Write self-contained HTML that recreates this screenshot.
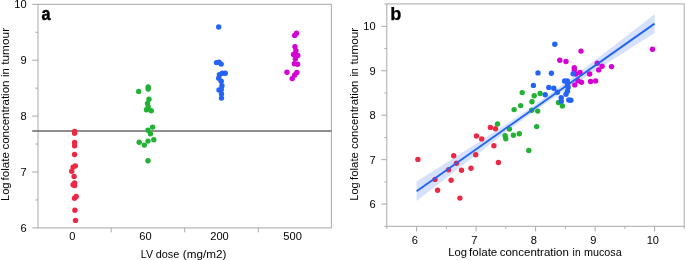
<!DOCTYPE html>
<html><head><meta charset="utf-8"><title>Figure</title>
<style>
html,body{margin:0;padding:0;background:#fff;}
svg{display:block;}
text{font-family:"Liberation Sans",sans-serif;fill:#000;}
.t{font-size:11.1px;}
.l{font-size:11.6px;}
.p{font-size:18.7px;font-weight:bold;fill:#000;stroke:#000;stroke-width:0.45px;stroke-linejoin:round;}
</style></head><body>
<svg width="685" height="260" viewBox="0 0 685 260">
<rect width="685" height="260" fill="#fff"/>

<g stroke="#a9a9a9" stroke-width="1" fill="none">
<rect x="38.0" y="4.3" width="293.4" height="223.6"/>
<line x1="32.2" x2="38.0" y1="227.90" y2="227.90"/>
<line x1="32.2" x2="38.0" y1="172.00" y2="172.00"/>
<line x1="32.2" x2="38.0" y1="116.10" y2="116.10"/>
<line x1="32.2" x2="38.0" y1="60.20" y2="60.20"/>
<line x1="32.2" x2="38.0" y1="4.30" y2="4.30"/>
<line x1="35.3" x2="38.0" y1="199.95" y2="199.95"/>
<line x1="35.3" x2="38.0" y1="144.05" y2="144.05"/>
<line x1="35.3" x2="38.0" y1="88.15" y2="88.15"/>
<line x1="35.3" x2="38.0" y1="32.25" y2="32.25"/>
<line x1="111.2" x2="111.2" y1="227.9" y2="232.3"/>
<line x1="184.7" x2="184.7" y1="227.9" y2="232.3"/>
<line x1="258.3" x2="258.3" y1="227.9" y2="232.3"/>
</g>
<line x1="32.2" x2="331.4" y1="131.0" y2="131.0" stroke="#676767" stroke-width="1.35"/>
<circle cx="74.6" cy="131.5" r="2.7" fill="#EC2945"/><circle cx="74.6" cy="133.2" r="2.7" fill="#EC2945"/><circle cx="74.6" cy="142.5" r="2.7" fill="#EC2945"/><circle cx="74.6" cy="145.8" r="2.7" fill="#EC2945"/><circle cx="74.6" cy="154.5" r="2.7" fill="#EC2945"/><circle cx="75.3" cy="165.9" r="2.7" fill="#EC2945"/><circle cx="73.1" cy="167.1" r="2.7" fill="#EC2945"/><circle cx="71.7" cy="171.2" r="2.7" fill="#EC2945"/><circle cx="74.1" cy="176.4" r="2.7" fill="#EC2945"/><circle cx="74.6" cy="183.0" r="2.7" fill="#EC2945"/><circle cx="73.1" cy="184.7" r="2.7" fill="#EC2945"/><circle cx="74.6" cy="185.5" r="2.7" fill="#EC2945"/><circle cx="76.2" cy="196.5" r="2.7" fill="#EC2945"/><circle cx="74.5" cy="198.3" r="2.7" fill="#EC2945"/><circle cx="74.9" cy="210.2" r="2.7" fill="#EC2945"/><circle cx="75.5" cy="220.4" r="2.7" fill="#EC2945"/><circle cx="148.2" cy="87.0" r="2.7" fill="#22B233"/><circle cx="148.2" cy="89.0" r="2.7" fill="#22B233"/><circle cx="138.7" cy="91.4" r="2.7" fill="#22B233"/><circle cx="149.0" cy="99.3" r="2.7" fill="#22B233"/><circle cx="147.5" cy="103.4" r="2.7" fill="#22B233"/><circle cx="148.2" cy="107.0" r="2.7" fill="#22B233"/><circle cx="146.5" cy="109.7" r="2.7" fill="#22B233"/><circle cx="151.2" cy="110.7" r="2.7" fill="#22B233"/><circle cx="152.6" cy="127.1" r="2.7" fill="#22B233"/><circle cx="148.0" cy="130.2" r="2.7" fill="#22B233"/><circle cx="150.4" cy="133.8" r="2.7" fill="#22B233"/><circle cx="153.8" cy="139.7" r="2.7" fill="#22B233"/><circle cx="148.0" cy="141.1" r="2.7" fill="#22B233"/><circle cx="139.2" cy="142.2" r="2.7" fill="#22B233"/><circle cx="144.3" cy="145.1" r="2.7" fill="#22B233"/><circle cx="148.0" cy="160.7" r="2.7" fill="#22B233"/><circle cx="218.7" cy="27.0" r="2.7" fill="#2464F5"/><circle cx="216.5" cy="62.6" r="2.7" fill="#2464F5"/><circle cx="219.0" cy="62.3" r="2.7" fill="#2464F5"/><circle cx="221.2" cy="64.1" r="2.7" fill="#2464F5"/><circle cx="225.3" cy="73.3" r="2.7" fill="#2464F5"/><circle cx="222.3" cy="73.3" r="2.7" fill="#2464F5"/><circle cx="219.4" cy="74.7" r="2.7" fill="#2464F5"/><circle cx="218.7" cy="78.3" r="2.7" fill="#2464F5"/><circle cx="221.2" cy="81.2" r="2.7" fill="#2464F5"/><circle cx="221.9" cy="85.7" r="2.7" fill="#2464F5"/><circle cx="219.0" cy="90.0" r="2.7" fill="#2464F5"/><circle cx="221.3" cy="89.5" r="2.7" fill="#2464F5"/><circle cx="221.5" cy="94.0" r="2.7" fill="#2464F5"/><circle cx="221.5" cy="98.1" r="2.7" fill="#2464F5"/><circle cx="296.5" cy="33.2" r="2.7" fill="#D400D4"/><circle cx="294.7" cy="35.4" r="2.7" fill="#D400D4"/><circle cx="295.0" cy="46.8" r="2.7" fill="#D400D4"/><circle cx="295.9" cy="50.8" r="2.7" fill="#D400D4"/><circle cx="293.5" cy="54.5" r="2.7" fill="#D400D4"/><circle cx="297.8" cy="55.5" r="2.7" fill="#D400D4"/><circle cx="295.4" cy="58.9" r="2.7" fill="#D400D4"/><circle cx="294.4" cy="63.7" r="2.7" fill="#D400D4"/><circle cx="297.6" cy="64.3" r="2.7" fill="#D400D4"/><circle cx="287.0" cy="72.3" r="2.7" fill="#D400D4"/><circle cx="296.9" cy="72.5" r="2.7" fill="#D400D4"/><circle cx="294.7" cy="75.0" r="2.7" fill="#D400D4"/><circle cx="292.2" cy="78.6" r="2.7" fill="#D400D4"/>
<text class="t" x="26.7" y="231.9" text-anchor="end">6</text>
<text class="t" x="26.7" y="176.0" text-anchor="end">7</text>
<text class="t" x="26.7" y="120.1" text-anchor="end">8</text>
<text class="t" x="26.7" y="64.2" text-anchor="end">9</text>
<text class="t" x="26.7" y="7.9" text-anchor="end">10</text>
<text class="t" x="72.3" y="240.2" text-anchor="middle">0</text>
<text class="t" x="145.5" y="240.2" text-anchor="middle">60</text>
<text class="t" x="219.5" y="240.2" text-anchor="middle">200</text>
<text class="t" x="292.6" y="240.2" text-anchor="middle">500</text>
<text class="l" y="257.5"><tspan x="140.8" textLength="12.2" lengthAdjust="spacingAndGlyphs">LV</tspan> <tspan x="155.7" textLength="23.6" lengthAdjust="spacingAndGlyphs">dose</tspan> <tspan x="182.8" textLength="43.5" lengthAdjust="spacingAndGlyphs">(mg/m2)</tspan></text>
<text class="l" transform="translate(8.8,0) rotate(-90)" y="0"><tspan x="-201.1" textLength="18.7" lengthAdjust="spacingAndGlyphs">Log</tspan> <tspan x="-180.4" textLength="28.3" lengthAdjust="spacingAndGlyphs">folate</tspan> <tspan x="-149.5" textLength="68.9" lengthAdjust="spacingAndGlyphs">concentration</tspan> <tspan x="-77.0" textLength="8.9" lengthAdjust="spacingAndGlyphs">in</tspan> <tspan x="-64.8" textLength="36.9" lengthAdjust="spacingAndGlyphs">tumour</tspan></text>
<text class="p" x="41.45" y="19.8" textLength="9.0" lengthAdjust="spacingAndGlyphs">a</text>
<polygon fill="#d6e2fd" points="416.6,181.5 422.6,177.7 428.5,174.0 434.4,170.2 440.4,166.4 446.4,162.6 452.3,158.9 458.3,155.1 464.2,151.3 470.2,147.5 476.1,143.7 482.1,139.8 488.0,136.0 494.0,132.2 499.9,128.3 505.9,124.4 511.8,120.4 517.8,116.5 523.7,112.5 529.7,108.4 535.6,104.2 541.5,100.0 547.5,95.8 553.5,91.4 559.4,87.1 565.4,82.6 571.3,78.2 577.2,73.7 583.2,69.2 589.2,64.6 595.1,60.1 601.0,55.5 607.0,51.0 613.0,46.4 618.9,41.8 624.9,37.2 630.8,32.6 636.8,28.0 642.7,23.4 648.7,18.8 654.6,14.1 654.6,33.1 648.7,36.8 642.7,40.6 636.8,44.4 630.8,48.1 624.9,51.9 618.9,55.7 613.0,59.5 607.0,63.3 601.0,67.1 595.1,70.9 589.2,74.7 583.2,78.6 577.2,82.5 571.3,86.3 565.4,90.3 559.4,94.2 553.5,98.2 547.5,102.3 541.5,106.4 535.6,110.6 529.7,114.8 523.7,119.1 517.8,123.5 511.8,127.9 505.9,132.3 499.9,136.8 494.0,141.3 488.0,145.8 482.1,150.4 476.1,154.9 470.2,159.5 464.2,164.1 458.3,168.7 452.3,173.3 446.4,177.9 440.4,182.5 434.4,187.1 428.5,191.7 422.6,196.3 416.6,200.9"/>
<circle cx="417.9" cy="159.4" r="2.7" fill="#EC2945"/><circle cx="435.0" cy="179.4" r="2.7" fill="#EC2945"/><circle cx="448.6" cy="169.8" r="2.7" fill="#EC2945"/><circle cx="456.5" cy="163.2" r="2.7" fill="#EC2945"/><circle cx="461.5" cy="170.2" r="2.7" fill="#EC2945"/><circle cx="471.0" cy="168.2" r="2.7" fill="#EC2945"/><circle cx="451.1" cy="180.2" r="2.7" fill="#EC2945"/><circle cx="437.6" cy="190.2" r="2.7" fill="#EC2945"/><circle cx="459.9" cy="198.1" r="2.7" fill="#EC2945"/><circle cx="453.7" cy="155.7" r="2.7" fill="#EC2945"/><circle cx="475.7" cy="154.7" r="2.7" fill="#EC2945"/><circle cx="476.5" cy="136.0" r="2.7" fill="#EC2945"/><circle cx="481.7" cy="138.9" r="2.7" fill="#EC2945"/><circle cx="493.9" cy="145.8" r="2.7" fill="#EC2945"/><circle cx="490.4" cy="127.4" r="2.7" fill="#EC2945"/><circle cx="495.5" cy="128.7" r="2.7" fill="#EC2945"/><circle cx="498.4" cy="162.5" r="2.7" fill="#EC2945"/><circle cx="497.5" cy="124.0" r="2.7" fill="#22B233"/><circle cx="509.5" cy="129.1" r="2.7" fill="#22B233"/><circle cx="505.1" cy="135.7" r="2.7" fill="#22B233"/><circle cx="505.8" cy="138.8" r="2.7" fill="#22B233"/><circle cx="513.4" cy="135.3" r="2.7" fill="#22B233"/><circle cx="519.3" cy="133.8" r="2.7" fill="#22B233"/><circle cx="514.1" cy="109.6" r="2.7" fill="#22B233"/><circle cx="520.7" cy="105.6" r="2.7" fill="#22B233"/><circle cx="531.7" cy="110.3" r="2.7" fill="#22B233"/><circle cx="537.7" cy="111.1" r="2.7" fill="#22B233"/><circle cx="536.7" cy="126.6" r="2.7" fill="#22B233"/><circle cx="562.4" cy="106.0" r="2.7" fill="#22B233"/><circle cx="558.5" cy="102.5" r="2.7" fill="#22B233"/><circle cx="522.2" cy="92.6" r="2.7" fill="#22B233"/><circle cx="534.2" cy="95.7" r="2.7" fill="#22B233"/><circle cx="540.1" cy="93.5" r="2.7" fill="#22B233"/><circle cx="532.0" cy="101.8" r="2.7" fill="#22B233"/><circle cx="528.8" cy="150.5" r="2.7" fill="#22B233"/><circle cx="559.8" cy="60.3" r="2.7" fill="#D400D4"/><circle cx="566.0" cy="61.5" r="2.7" fill="#D400D4"/><circle cx="574.3" cy="67.8" r="2.7" fill="#D400D4"/><circle cx="574.3" cy="69.9" r="2.7" fill="#D400D4"/><circle cx="580.0" cy="72.5" r="2.7" fill="#D400D4"/><circle cx="575.8" cy="74.0" r="2.7" fill="#D400D4"/><circle cx="589.6" cy="74.0" r="2.7" fill="#D400D4"/><circle cx="598.7" cy="69.9" r="2.7" fill="#D400D4"/><circle cx="602.1" cy="66.2" r="2.7" fill="#D400D4"/><circle cx="597.3" cy="63.2" r="2.7" fill="#D400D4"/><circle cx="611.5" cy="66.6" r="2.7" fill="#D400D4"/><circle cx="590.6" cy="81.5" r="2.7" fill="#D400D4"/><circle cx="595.6" cy="80.9" r="2.7" fill="#D400D4"/><circle cx="581.5" cy="82.2" r="2.7" fill="#D400D4"/><circle cx="577.9" cy="80.7" r="2.7" fill="#D400D4"/><circle cx="574.8" cy="84.9" r="2.7" fill="#D400D4"/><circle cx="581.0" cy="51.1" r="2.7" fill="#D400D4"/><circle cx="652.5" cy="49.2" r="2.7" fill="#D400D4"/><circle cx="554.8" cy="44.3" r="2.7" fill="#2464F5"/><circle cx="538.0" cy="72.9" r="2.7" fill="#2464F5"/><circle cx="551.4" cy="73.3" r="2.7" fill="#2464F5"/><circle cx="573.2" cy="73.8" r="2.7" fill="#2464F5"/><circle cx="533.4" cy="85.4" r="2.7" fill="#2464F5"/><circle cx="548.8" cy="87.4" r="2.7" fill="#2464F5"/><circle cx="553.8" cy="88.2" r="2.7" fill="#2464F5"/><circle cx="545.2" cy="94.8" r="2.7" fill="#2464F5"/><circle cx="557.3" cy="92.2" r="2.7" fill="#2464F5"/><circle cx="561.2" cy="97.8" r="2.7" fill="#2464F5"/><circle cx="561.3" cy="101.2" r="2.7" fill="#2464F5"/><circle cx="564.6" cy="81.0" r="2.7" fill="#2464F5"/><circle cx="567.3" cy="81.0" r="2.7" fill="#2464F5"/><circle cx="567.5" cy="85.2" r="2.7" fill="#2464F5"/><circle cx="568.1" cy="87.4" r="2.7" fill="#2464F5"/><circle cx="567.5" cy="91.2" r="2.7" fill="#2464F5"/><circle cx="566.0" cy="94.3" r="2.7" fill="#2464F5"/><circle cx="568.8" cy="100.0" r="2.7" fill="#2464F5"/><circle cx="570.9" cy="100.2" r="2.7" fill="#2464F5"/>
<line x1="416.6" y1="191.2" x2="654.6" y2="23.6" stroke="#2464F4" stroke-width="1.9"/>
<g stroke="#a9a9a9" stroke-width="1" fill="none">
<rect x="386.8" y="3.9" width="297.40000000000003" height="222.4"/>
<line x1="381.3" x2="386.8" y1="204.10" y2="204.10"/>
<line x1="416.60" x2="416.60" y1="226.3" y2="231.4"/>
<line x1="381.3" x2="386.8" y1="159.65" y2="159.65"/>
<line x1="476.10" x2="476.10" y1="226.3" y2="231.4"/>
<line x1="381.3" x2="386.8" y1="115.20" y2="115.20"/>
<line x1="535.60" x2="535.60" y1="226.3" y2="231.4"/>
<line x1="381.3" x2="386.8" y1="70.75" y2="70.75"/>
<line x1="595.10" x2="595.10" y1="226.3" y2="231.4"/>
<line x1="381.3" x2="386.8" y1="26.30" y2="26.30"/>
<line x1="654.60" x2="654.60" y1="226.3" y2="231.4"/>
<line x1="384.4" x2="386.8" y1="226.32" y2="226.32"/>
<line x1="386.85" x2="386.85" y1="226.3" y2="228.8"/>
<line x1="384.4" x2="386.8" y1="181.88" y2="181.88"/>
<line x1="446.35" x2="446.35" y1="226.3" y2="228.8"/>
<line x1="384.4" x2="386.8" y1="137.42" y2="137.42"/>
<line x1="505.85" x2="505.85" y1="226.3" y2="228.8"/>
<line x1="384.4" x2="386.8" y1="92.97" y2="92.97"/>
<line x1="565.35" x2="565.35" y1="226.3" y2="228.8"/>
<line x1="384.4" x2="386.8" y1="48.52" y2="48.52"/>
<line x1="624.85" x2="624.85" y1="226.3" y2="228.8"/>
<line x1="384.4" x2="386.8" y1="4.07" y2="4.07"/>
<line x1="684.35" x2="684.35" y1="226.3" y2="228.8"/>
</g>
<text class="t" x="375.6" y="208.2" text-anchor="end">6</text>
<text class="t" x="414.8" y="244.0" text-anchor="middle">6</text>
<text class="t" x="375.6" y="163.7" text-anchor="end">7</text>
<text class="t" x="474.3" y="244.0" text-anchor="middle">7</text>
<text class="t" x="375.6" y="119.3" text-anchor="end">8</text>
<text class="t" x="533.8" y="244.0" text-anchor="middle">8</text>
<text class="t" x="375.6" y="74.8" text-anchor="end">9</text>
<text class="t" x="593.3" y="244.0" text-anchor="middle">9</text>
<text class="t" x="375.6" y="30.4" text-anchor="end">10</text>
<text class="t" x="652.8" y="244.0" text-anchor="middle">10</text>
<text class="l" y="255.9"><tspan x="448.3" textLength="18.7" lengthAdjust="spacingAndGlyphs">Log</tspan> <tspan x="469.0" textLength="28.3" lengthAdjust="spacingAndGlyphs">folate</tspan> <tspan x="499.7" textLength="69.2" lengthAdjust="spacingAndGlyphs">concentration</tspan> <tspan x="572.6" textLength="8.0" lengthAdjust="spacingAndGlyphs">in</tspan> <tspan x="583.9" textLength="37.8" lengthAdjust="spacingAndGlyphs">mucosa</tspan></text>
<text class="l" transform="translate(357.7,0) rotate(-90)" y="0"><tspan x="-200.7" textLength="18.3" lengthAdjust="spacingAndGlyphs">Log</tspan> <tspan x="-180.0" textLength="27.9" lengthAdjust="spacingAndGlyphs">folate</tspan> <tspan x="-149.1" textLength="68.5" lengthAdjust="spacingAndGlyphs">concentration</tspan> <tspan x="-76.6" textLength="8.5" lengthAdjust="spacingAndGlyphs">in</tspan> <tspan x="-64.4" textLength="36.5" lengthAdjust="spacingAndGlyphs">tumour</tspan></text>
<text class="p" x="390.3" y="20.0" style="font-size:18.2px;stroke-width:0.25px">b</text>
</svg></body></html>
